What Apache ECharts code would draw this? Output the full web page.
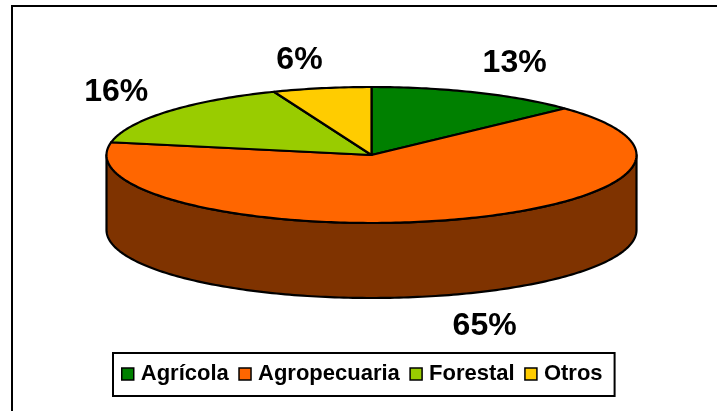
<!DOCTYPE html>
<html><head><meta charset="utf-8">
<style>html,body{margin:0;padding:0;background:#fff}#c{width:717px;height:411px}</style>
<script src="https://cdn.jsdelivr.net/npm/echarts@6/dist/echarts.min.js"></script>
</head><body><div id="c"></div>
<script>
const categories = ['Agrícola', 'Agropecuaria', 'Forestal', 'Otros'];
const values = [13, 65, 16, 6];
const colors = ['#008000', '#FF6600', '#99CC00', '#FFCC00'];

const FONT = '"Liberation Sans", Arial, sans-serif';
const total = values.reduce((a, b) => a + b, 0);
const CX = 371.5, CY = 155, RX = 265, RY = 68, DEPTH = 75;
const WALL = '#7F3300';
const LABEL_K = [[1.36, 1.47], [1.53, 1.47], [1.25, 1.45], [1.45, 1.42]];
const rad = d => d * Math.PI / 180;
const pt = (deg, dy) => [CX + RX * Math.sin(rad(deg)), CY - RY * Math.cos(rad(deg)) + (dy || 0)];
function arc(a0, a1, dy) {
  const out = [], n = Math.max(2, Math.ceil(Math.abs(a1 - a0)));
  for (let i = 0; i <= n; i++) out.push(pt(a0 + (a1 - a0) * i / n, dy));
  return out;
}
function renderSlice(idx) {
  return function (params, api) {
    const v = api.value(0);
    const before = values.slice(0, idx).reduce((a, b) => a + b, 0);
    const a0 = before / total * 360, a1 = a0 + v / total * 360, mid = (a0 + a1) / 2;
    const children = [];
    const w0 = Math.max(a0, 90), w1 = Math.min(a1, 270);
    const stroke = { stroke: '#000', lineWidth: 2.2, lineJoin: 'round' };
    if (w1 > w0) {
      children.push({
        type: 'polygon',
        shape: { points: arc(w0, w1, 0).concat(arc(w1, w0, DEPTH)) },
        style: Object.assign({ fill: WALL }, stroke)
      });
    }
    children.push({
      type: 'polygon',
      shape: { points: [[CX, CY]].concat(arc(a0, a1, 0)) },
      style: Object.assign({ fill: api.visual('color') }, stroke)
    });
    const cosv = Math.cos(rad(mid));
    children.push({
      type: 'text',
      x: CX + RX * LABEL_K[idx][0] * Math.sin(rad(mid)),
      y: CY - RY * LABEL_K[idx][1] * cosv + (cosv < 0 ? DEPTH : 0),
      style: {
        text: v + '%', fill: '#000', align: 'center', verticalAlign: 'middle',
        font: 'bold 32px ' + FONT
      }
    });
    return { type: 'group', children };
  };
}
const chart = echarts.init(document.getElementById('c'), null, { renderer: 'canvas' });
chart.setOption({
  animation: false,
  backgroundColor: '#fff',
  tooltip: { show: false },
  legend: {
    show: true,
    left: 113, top: 353,
    orient: 'horizontal',
    data: categories,
    icon: 'rect',
    itemWidth: 12, itemHeight: 12, itemGap: 9.5,
    padding: [10, 12, 11, 8],
    borderColor: '#000', borderWidth: 2, backgroundColor: '#fff',
    itemStyle: { borderColor: '#000', borderWidth: 1.5 },
    selectedMode: false,
    textStyle: { fontFamily: FONT, fontWeight: 'bold', fontSize: 22, color: '#000', padding: [0, 0, 0, 2] }
  },
  graphic: [{
    type: 'polyline', silent: true,
    shape: { points: [[717, 6], [12, 6], [12, 411]] },
    style: { stroke: '#000', lineWidth: 2, fill: null }
  }],
  series: categories.map((name, i) => ({
    type: 'custom',
    name,
    coordinateSystem: 'none',
    itemStyle: { color: colors[i] },
    data: [[values[i]]],
    renderItem: renderSlice(i),
    silent: true
  }))
});
</script></body></html>
